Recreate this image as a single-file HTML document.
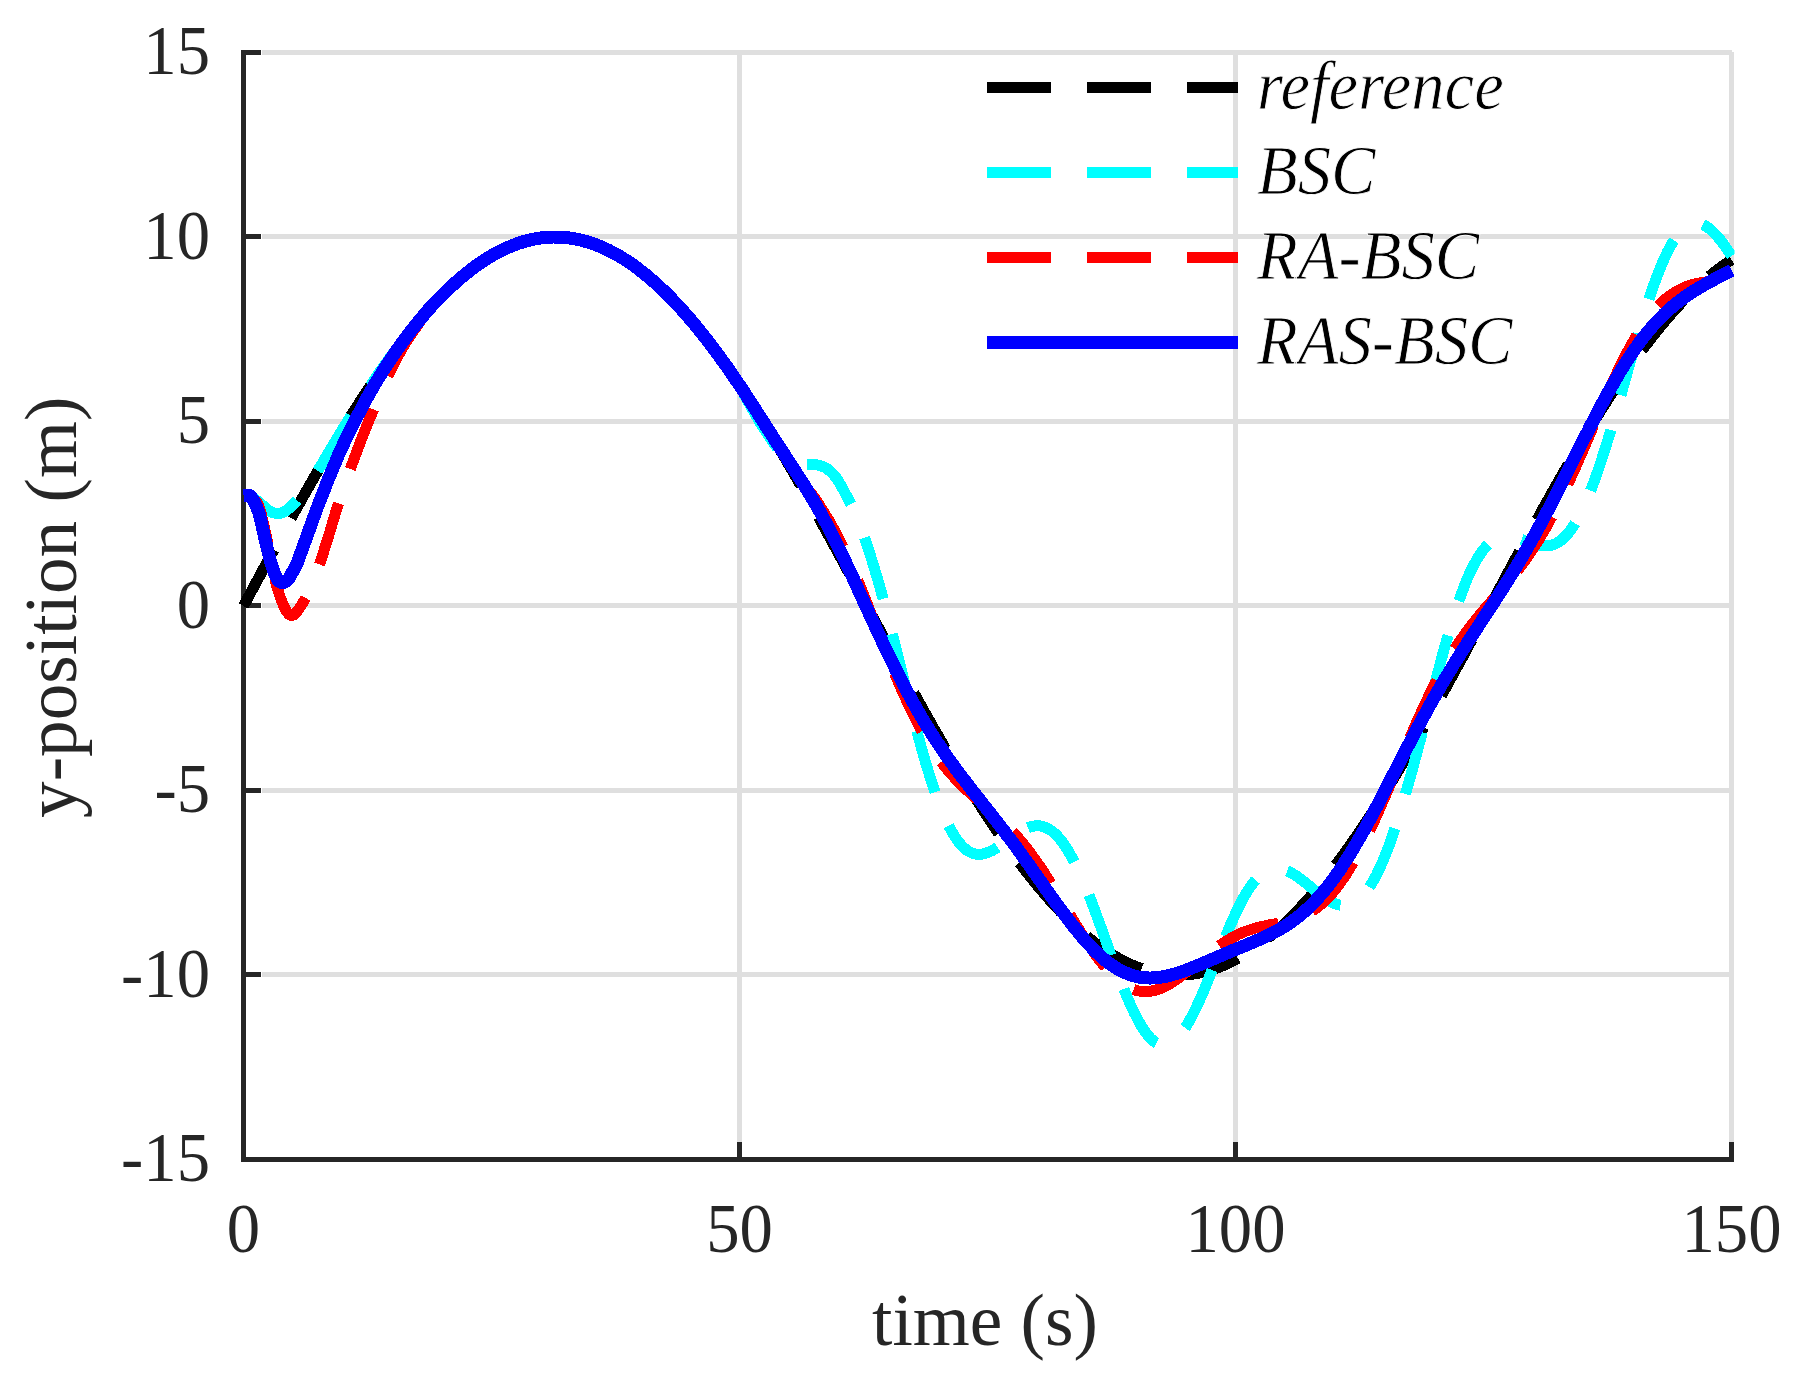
<!DOCTYPE html>
<html lang="en"><head><meta charset="utf-8"><title>y-position tracking</title>
<style>html,body{margin:0;padding:0;background:#fff}svg{display:block}</style>
</head><body>
<svg width="1799" height="1375" viewBox="0 0 1799 1375">
<rect width="1799" height="1375" fill="#fff"/>
<g fill="#dfdfdf" shape-rendering="crispEdges">
<rect x="737" y="52" width="5" height="1090"/>
<rect x="1233" y="52" width="5" height="1090"/>
<rect x="1729" y="52" width="5" height="1090"/>
<rect x="262" y="50" width="1470" height="5"/>
<rect x="262" y="234" width="1470" height="5"/>
<rect x="262" y="419" width="1470" height="5"/>
<rect x="262" y="603" width="1470" height="5"/>
<rect x="262" y="788" width="1470" height="5"/>
<rect x="262" y="972" width="1470" height="5"/>
</g>
<g fill="#262626" shape-rendering="crispEdges">
<rect x="241" y="50" width="5" height="1112"/>
<rect x="241" y="1157" width="1493" height="5"/>
<rect x="737" y="1142" width="5" height="20"/>
<rect x="1233" y="1142" width="5" height="20"/>
<rect x="1729" y="1142" width="5" height="20"/>
<rect x="241" y="50" width="20" height="5"/>
<rect x="241" y="234" width="20" height="5"/>
<rect x="241" y="419" width="20" height="5"/>
<rect x="241" y="603" width="20" height="5"/>
<rect x="241" y="788" width="20" height="5"/>
<rect x="241" y="972" width="20" height="5"/>
</g>
<defs><clipPath id="c"><rect x="230" y="40" width="1504.5" height="1130"/></clipPath></defs>
<g fill="none" stroke-width="11" stroke-linejoin="round" shape-rendering="crispEdges" clip-path="url(#c)">
<path stroke="#000" stroke-dasharray="64 36" d="M243.5 606.0L244.5 604.2L245.5 602.3L246.5 600.5L247.5 598.6L248.5 596.8L249.5 594.9L250.4 593.1L251.4 591.2L252.4 589.4L253.4 587.6L254.4 585.7L255.4 583.9L256.4 582.0L257.4 580.2L258.4 578.4L259.4 576.5L260.4 574.7L261.4 572.8L262.3 571.0L263.3 569.2L264.3 567.3L265.3 565.5L266.3 563.7L267.3 561.8L268.3 560.0L269.3 558.2L270.3 556.3L271.3 554.5L272.3 552.7L273.3 550.9L274.3 549.0L275.2 547.2L276.2 545.4L277.2 543.6L278.2 541.8L279.2 539.9L280.2 538.1L281.2 536.3L282.2 534.5L283.2 532.7L284.2 530.9L285.2 529.1L286.2 527.3L287.1 525.5L288.1 523.7L289.1 521.9L290.1 520.1L291.1 518.3L292.1 516.5L293.1 514.7L294.1 512.9L295.1 511.1L296.1 509.4L297.1 507.6L298.1 505.8L299.1 504.0L300.0 502.3L301.0 500.5L302.0 498.7L303.0 497.0L304.0 495.2L305.0 493.4L306.0 491.7L307.0 489.9L308.0 488.2L309.0 486.4L310.0 484.7L311.0 482.9L311.9 481.2L312.9 479.5L313.9 477.7L314.9 476.0L315.9 474.3L316.9 472.6L317.9 470.8L318.9 469.1L319.9 467.4L320.9 465.7L321.9 464.0L322.9 462.3L323.9 460.6L324.8 458.9L325.8 457.2L326.8 455.5L327.8 453.9L328.8 452.2L329.8 450.5L330.8 448.8L331.8 447.2L332.8 445.5L333.8 443.8L334.8 442.2L335.8 440.5L336.7 438.9L337.7 437.2L338.7 435.6L339.7 434.0L340.7 432.3L341.7 430.7L342.7 429.1L343.7 427.5L344.7 425.9L345.7 424.3L346.7 422.7L347.7 421.1L348.7 419.5L349.6 417.9L350.6 416.3L351.6 414.7L352.6 413.1L353.6 411.6L354.6 410.0L355.6 408.4L356.6 406.9L357.6 405.3L358.6 403.8L359.6 402.2L360.6 400.7L361.5 399.2L362.5 397.6L363.5 396.1L364.5 394.6L365.5 393.1L366.5 391.6L367.5 390.1L368.5 388.6L369.5 387.1L370.5 385.6L371.5 384.2L372.5 382.7L373.5 381.2L374.4 379.8L375.4 378.3L376.4 376.9L377.4 375.4L378.4 374.0L379.4 372.5L380.4 371.1L381.4 369.7L382.4 368.3L383.4 366.9L384.4 365.5L385.4 364.1L386.3 362.7L387.3 361.3L388.3 359.9L389.3 358.6L390.3 357.2L391.3 355.8L392.3 354.5L393.3 353.1L394.3 351.8L395.3 350.5L396.3 349.1L397.3 347.8L398.3 346.5L399.2 345.2L400.2 343.9L401.2 342.6L402.2 341.3L403.2 340.0L404.2 338.7L405.2 337.5L406.2 336.2L407.2 335.0L408.2 333.7L409.2 332.5L410.2 331.2L411.1 330.0L412.1 328.8L413.1 327.6L414.1 326.4L415.1 325.2L416.1 324.0L417.1 322.8L418.1 321.6L419.1 320.4L420.1 319.3L421.1 318.1L422.1 317.0L423.1 315.8L424.0 314.7L425.0 313.5L426.0 312.4L427.0 311.3L428.0 310.2L429.0 309.1L430.0 308.0L431.0 306.9L432.0 305.8L433.0 304.8L434.0 303.7L435.0 302.7L435.9 301.6L436.9 300.6L437.9 299.5L438.9 298.5L439.9 297.5L440.9 296.5L441.9 295.5L444.4 293.0L446.9 290.6L449.3 288.2L451.8 285.9L454.3 283.7L456.8 281.4L459.3 279.3L461.7 277.1L464.2 275.1L466.7 273.1L469.2 271.1L471.7 269.2L474.1 267.3L476.6 265.5L479.1 263.8L481.6 262.1L484.1 260.4L486.5 258.8L489.0 257.3L491.5 255.8L494.0 254.4L496.5 253.0L498.9 251.7L501.4 250.4L503.9 249.2L506.4 248.1L508.9 247.0L511.3 246.0L513.8 245.0L516.3 244.1L518.8 243.2L521.3 242.4L523.7 241.6L526.2 240.9L528.7 240.3L531.2 239.7L533.7 239.2L536.1 238.7L538.6 238.3L541.1 237.9L543.6 237.6L546.1 237.4L548.5 237.2L551.0 237.1L553.5 237.0L556.0 237.0L558.5 237.1L560.9 237.2L563.4 237.3L565.9 237.5L568.4 237.8L570.9 238.2L573.3 238.6L575.8 239.0L578.3 239.5L580.8 240.1L583.3 240.7L585.7 241.4L588.2 242.1L590.7 242.9L593.2 243.8L595.7 244.7L598.1 245.6L600.6 246.7L603.1 247.7L605.6 248.9L608.1 250.0L610.5 251.3L613.0 252.6L615.5 253.9L618.0 255.4L620.5 256.8L622.9 258.3L625.4 259.9L627.9 261.5L630.4 263.2L632.9 264.9L635.3 266.7L637.8 268.6L640.3 270.5L642.8 272.4L645.3 274.4L647.7 276.5L650.2 278.6L652.7 280.7L655.2 282.9L657.7 285.2L660.1 287.5L662.6 289.8L665.1 292.2L667.6 294.7L670.1 297.2L672.5 299.7L675.0 302.3L677.5 305.0L680.0 307.7L682.5 310.4L684.9 313.2L687.4 316.0L689.9 318.9L692.4 321.8L694.9 324.8L697.3 327.8L699.8 330.8L702.3 333.9L704.8 337.1L707.3 340.2L709.7 343.5L712.2 346.7L714.7 350.0L717.2 353.4L719.7 356.8L722.1 360.2L724.6 363.6L727.1 367.1L729.6 370.7L732.1 374.2L734.5 377.8L737.0 381.5L739.5 385.2L742.0 388.9L744.5 392.6L746.9 396.4L749.4 400.2L751.9 404.1L754.4 407.9L756.9 411.8L759.3 415.8L761.8 419.7L764.3 423.7L766.8 427.8L769.3 431.8L771.7 435.9L774.2 440.0L776.7 444.1L779.2 448.3L781.7 452.5L784.1 456.7L786.6 460.9L789.1 465.2L791.6 469.4L794.1 473.7L796.5 478.1L799.0 482.4L801.5 486.7L804.0 491.1L806.5 495.5L808.9 499.9L811.4 504.3L813.9 508.8L816.4 513.2L818.9 517.7L821.3 522.2L823.8 526.7L826.3 531.2L828.8 535.7L831.3 540.3L833.7 544.8L836.2 549.4L838.7 553.9L841.2 558.5L843.7 563.1L846.1 567.7L848.6 572.2L851.1 576.8L853.6 581.4L856.1 586.0L858.5 590.7L861.0 595.3L863.5 599.9L866.0 604.5L868.5 609.1L870.9 613.7L873.4 618.3L875.9 622.9L878.4 627.5L880.9 632.1L883.3 636.7L885.8 641.3L888.3 645.9L890.8 650.5L893.3 655.1L895.7 659.6L898.2 664.2L900.7 668.8L903.2 673.3L905.7 677.8L908.1 682.3L910.6 686.9L913.1 691.3L915.6 695.8L918.1 700.3L920.5 704.7L923.0 709.2L925.5 713.6L928.0 718.0L930.5 722.4L932.9 726.8L935.4 731.1L937.9 735.4L940.4 739.7L942.9 744.0L945.3 748.3L947.8 752.5L950.3 756.8L952.8 761.0L955.3 765.1L957.7 769.3L960.2 773.4L962.7 777.5L965.2 781.6L967.7 785.6L970.1 789.6L972.6 793.6L975.1 797.6L977.6 801.5L980.1 805.4L982.5 809.3L985.0 813.1L987.5 816.9L990.0 820.7L992.5 824.4L994.9 828.1L997.4 831.8L999.9 835.4L1002.4 839.0L1004.9 842.6L1007.3 846.1L1009.8 849.6L1012.3 853.0L1014.8 856.4L1017.3 859.8L1019.7 863.1L1022.2 866.4L1024.7 869.7L1027.2 872.9L1029.7 876.0L1032.1 879.1L1034.6 882.2L1037.1 885.3L1039.6 888.3L1042.1 891.2L1044.5 894.1L1047.0 897.0L1049.5 899.8L1052.0 902.5L1054.5 905.3L1056.9 907.9L1059.4 910.6L1061.9 913.2L1064.4 915.7L1066.9 918.2L1069.3 920.6L1071.8 923.0L1074.3 925.3L1076.8 927.6L1079.3 929.8L1081.7 932.0L1084.2 934.2L1086.7 936.3L1089.2 938.3L1091.7 940.3L1094.1 942.2L1096.6 944.1L1099.1 945.9L1101.6 947.7L1104.1 949.4L1106.5 951.0L1109.0 952.6L1111.5 954.2L1114.0 955.7L1116.5 957.1L1118.9 958.5L1121.4 959.9L1123.9 961.1L1126.4 962.4L1128.9 963.5L1131.3 964.7L1133.8 965.7L1136.3 966.7L1138.8 967.7L1141.3 968.5L1143.7 969.4L1146.2 970.1L1148.7 970.9L1151.2 971.5L1153.7 972.1L1156.1 972.7L1158.6 973.2L1161.1 973.6L1163.6 974.0L1166.1 974.3L1168.5 974.5L1171.0 974.7L1173.5 974.9L1176.0 975.0L1178.5 975.0L1180.9 975.0L1183.4 974.9L1185.9 974.7L1188.4 974.5L1190.9 974.3L1193.3 974.0L1195.8 973.6L1198.3 973.2L1200.8 972.7L1203.3 972.1L1205.7 971.5L1208.2 970.9L1210.7 970.1L1213.2 969.4L1215.7 968.5L1218.1 967.6L1220.6 966.7L1223.1 965.7L1225.6 964.6L1228.1 963.5L1230.5 962.3L1233.0 961.1L1235.5 959.8L1238.0 958.5L1240.5 957.1L1242.9 955.7L1245.4 954.2L1247.9 952.6L1250.4 951.0L1252.9 949.3L1255.3 947.6L1257.8 945.9L1260.3 944.0L1262.8 942.2L1265.3 940.2L1267.7 938.2L1270.2 936.2L1272.7 934.1L1275.2 932.0L1277.7 929.8L1280.1 927.6L1282.6 925.3L1285.1 922.9L1287.6 920.6L1290.1 918.1L1292.5 915.6L1295.0 913.1L1297.5 910.5L1300.0 907.9L1302.5 905.2L1304.9 902.5L1307.4 899.7L1309.9 896.9L1312.4 894.1L1314.9 891.2L1317.3 888.2L1319.8 885.2L1322.3 882.2L1324.8 879.1L1327.3 876.0L1329.7 872.8L1332.2 869.6L1334.7 866.3L1337.2 863.1L1339.7 859.7L1342.1 856.4L1344.6 852.9L1347.1 849.5L1349.6 846.0L1352.1 842.5L1354.5 838.9L1357.0 835.3L1359.5 831.7L1362.0 828.0L1364.5 824.3L1366.9 820.6L1369.4 816.8L1371.9 813.0L1374.4 809.2L1376.9 805.3L1379.3 801.4L1381.8 797.5L1384.3 793.6L1386.8 789.6L1389.3 785.6L1391.7 781.5L1394.2 777.4L1396.7 773.3L1399.2 769.2L1401.7 765.1L1404.1 760.9L1406.6 756.7L1409.1 752.5L1411.6 748.2L1414.1 744.0L1416.5 739.7L1419.0 735.4L1421.5 731.0L1424.0 726.7L1426.5 722.3L1428.9 717.9L1431.4 713.5L1433.9 709.1L1436.4 704.7L1438.9 700.2L1441.3 695.7L1443.8 691.3L1446.3 686.8L1448.8 682.3L1451.3 677.7L1453.7 673.2L1456.2 668.7L1458.7 664.1L1461.2 659.6L1463.7 655.0L1466.1 650.4L1468.6 645.8L1471.1 641.3L1473.6 636.7L1476.1 632.1L1478.5 627.5L1481.0 622.9L1483.5 618.2L1486.0 613.6L1488.5 609.0L1490.9 604.4L1493.4 599.8L1495.9 595.2L1498.4 590.6L1500.9 586.0L1503.3 581.4L1505.8 576.8L1508.3 572.2L1510.8 567.6L1513.3 563.0L1515.7 558.4L1518.2 553.8L1520.7 549.3L1523.2 544.7L1525.7 540.2L1528.1 535.7L1530.6 531.1L1533.1 526.6L1535.6 522.1L1538.1 517.6L1540.5 513.2L1543.0 508.7L1545.5 504.3L1548.0 499.8L1550.5 495.4L1552.9 491.0L1555.4 486.7L1557.9 482.3L1560.4 478.0L1562.9 473.7L1565.3 469.4L1567.8 465.1L1570.3 460.8L1572.8 456.6L1575.3 452.4L1577.7 448.2L1580.2 444.1L1582.7 439.9L1585.2 435.8L1587.7 431.7L1590.1 427.7L1592.6 423.7L1595.1 419.7L1597.6 415.7L1600.1 411.8L1602.5 407.9L1605.0 404.0L1607.5 400.1L1610.0 396.3L1612.5 392.6L1614.9 388.8L1617.4 385.1L1619.9 381.4L1622.4 377.8L1624.9 374.2L1627.3 370.6L1629.8 367.1L1632.3 363.6L1634.8 360.1L1637.3 356.7L1639.7 353.3L1642.2 350.0L1644.7 346.7L1647.2 343.4L1649.7 340.2L1652.1 337.0L1654.6 333.9L1657.1 330.8L1659.6 327.7L1662.1 324.7L1664.5 321.8L1667.0 318.8L1669.5 316.0L1672.0 313.1L1674.5 310.4L1676.9 307.6L1679.4 304.9L1681.9 302.3L1684.4 299.7L1686.9 297.1L1689.3 294.6L1691.8 292.2L1694.3 289.8L1696.8 287.4L1699.3 285.1L1701.7 282.9L1704.2 280.7L1706.7 278.5L1709.2 276.4L1711.7 274.4L1714.1 272.4L1716.6 270.4L1719.1 268.5L1721.6 266.7L1724.1 264.9L1726.5 263.2L1729.0 261.5L1731.5 259.9"/>
<path stroke="#0ff" stroke-dasharray="64 36.15" d="M243.5 495.3L244.5 495.2L245.5 495.1L246.5 495.2L247.5 495.3L248.5 495.5L249.5 495.8L250.4 496.2L251.4 496.7L252.4 497.3L253.4 497.9L254.4 498.6L255.4 499.4L256.4 500.2L257.4 501.1L258.4 501.9L259.4 502.7L260.4 503.5L261.4 504.3L262.3 505.1L263.3 506.0L264.3 506.9L265.3 507.8L266.3 508.7L267.3 509.5L268.3 510.2L269.3 510.8L270.3 511.4L271.3 511.9L272.3 512.3L273.3 512.7L274.3 513.0L275.2 513.2L276.2 513.3L277.2 513.4L278.2 513.4L279.2 513.3L280.2 513.2L281.2 513.0L282.2 512.7L283.2 512.3L284.2 511.8L285.2 511.2L286.2 510.6L287.1 509.9L288.1 509.2L289.1 508.3L290.1 507.5L291.1 506.6L292.1 505.6L293.1 504.6L294.1 503.6L295.1 502.5L296.1 501.3L297.1 500.1L298.1 498.9L299.1 497.6L300.0 496.3L301.0 495.0L302.0 493.7L303.0 492.3L304.0 490.9L305.0 489.5L306.0 488.1L307.0 486.7L308.0 485.2L309.0 483.8L310.0 482.3L311.0 480.8L311.9 479.4L312.9 477.9L313.9 476.4L314.9 474.9L315.9 473.4L316.9 471.9L317.9 470.4L318.9 468.8L319.9 467.2L320.9 465.6L321.9 464.0L322.9 462.3L323.9 460.6L324.8 458.9L325.8 457.2L326.8 455.5L327.8 453.9L328.8 452.2L329.8 450.5L330.8 448.8L331.8 447.2L332.8 445.5L333.8 443.8L334.8 442.2L335.8 440.5L336.7 438.9L337.7 437.2L338.7 435.6L339.7 434.0L340.7 432.3L341.7 430.7L342.7 429.1L343.7 427.5L344.7 425.9L345.7 424.3L346.7 422.7L347.7 421.1L348.7 419.5L349.6 417.9L350.6 416.3L351.6 414.7L352.6 413.1L353.6 411.6L354.6 410.0L355.6 408.4L356.6 406.9L357.6 405.3L358.6 403.8L359.6 402.2L360.6 400.7L361.5 399.2L362.5 397.6L363.5 396.1L364.5 394.6L365.5 393.1L366.5 391.6L367.5 390.1L368.5 388.6L369.5 387.1L370.5 385.6L371.5 384.2L372.5 382.7L373.5 381.2L374.4 379.8L375.4 378.3L376.4 376.9L377.4 375.4L378.4 374.0L379.4 372.5L380.4 371.1L381.4 369.7L382.4 368.3L383.4 366.9L384.4 365.5L385.4 364.1L386.3 362.7L387.3 361.3L388.3 359.9L389.3 358.6L390.3 357.2L391.3 355.8L392.3 354.5L393.3 353.1L394.3 351.8L395.3 350.5L396.3 349.1L397.3 347.8L398.3 346.5L399.2 345.2L400.2 343.9L401.2 342.6L402.2 341.3L403.2 340.0L404.2 338.7L405.2 337.5L406.2 336.2L407.2 335.0L408.2 333.7L409.2 332.5L410.2 331.2L411.1 330.0L412.1 328.8L413.1 327.6L414.1 326.4L415.1 325.2L416.1 324.0L417.1 322.8L418.1 321.6L419.1 320.4L420.1 319.3L421.1 318.1L422.1 317.0L423.1 315.8L424.0 314.7L425.0 313.5L426.0 312.4L427.0 311.3L428.0 310.2L429.0 309.1L430.0 308.0L431.0 306.9L432.0 305.8L433.0 304.8L434.0 303.7L435.0 302.7L435.9 301.6L436.9 300.6L437.9 299.5L438.9 298.5L439.9 297.5L440.9 296.5L441.9 295.5L444.4 293.0L446.9 290.6L449.3 288.2L451.8 285.9L454.3 283.7L456.8 281.4L459.3 279.3L461.7 277.1L464.2 275.1L466.7 273.1L469.2 271.1L471.7 269.2L474.1 267.3L476.6 265.5L479.1 263.8L481.6 262.1L484.1 260.4L486.5 258.8L489.0 257.3L491.5 255.8L494.0 254.4L496.5 253.0L498.9 251.7L501.4 250.4L503.9 249.2L506.4 248.1L508.9 247.0L511.3 246.0L513.8 245.0L516.3 244.1L518.8 243.2L521.3 242.4L523.7 241.6L526.2 240.9L528.7 240.3L531.2 239.7L533.7 239.2L536.1 238.7L538.6 238.3L541.1 237.9L543.6 237.6L546.1 237.4L548.5 237.2L551.0 237.1L553.5 237.0L556.0 237.0L558.5 237.1L560.9 237.2L563.4 237.3L565.9 237.5L568.4 237.8L570.9 238.2L573.3 238.6L575.8 239.0L578.3 239.5L580.8 240.1L583.3 240.7L585.7 241.4L588.2 242.1L590.7 242.9L593.2 243.8L595.7 244.7L598.1 245.6L600.6 246.7L603.1 247.7L605.6 248.9L608.1 250.0L610.5 251.3L613.0 252.6L615.5 253.9L618.0 255.4L620.5 256.8L622.9 258.3L625.4 259.9L627.9 261.5L630.4 263.2L632.9 264.9L635.3 266.7L637.8 268.6L640.3 270.5L642.8 272.4L645.3 274.4L647.7 276.5L650.2 278.6L652.7 280.7L655.2 282.9L657.7 285.2L660.1 287.5L662.6 289.8L665.1 292.2L667.6 294.7L670.1 297.2L672.5 299.7L675.0 302.3L677.5 305.0L680.0 307.7L682.5 310.4L684.9 313.2L687.4 316.0L689.9 318.9L692.4 321.8L694.9 324.8L697.3 327.8L699.8 330.8L702.3 333.9L704.8 337.1L707.3 340.2L709.7 343.5L712.2 346.7L714.7 350.0L717.2 353.4L719.7 356.8L722.1 360.2L724.6 363.8L727.1 367.5L729.6 371.3L732.1 375.2L734.5 379.1L737.0 383.0L739.5 387.0L742.0 391.1L744.5 395.3L746.9 399.6L749.4 403.9L751.9 408.3L754.4 412.7L756.9 417.0L759.3 421.2L761.8 425.3L764.3 429.2L766.8 433.0L769.3 436.7L771.7 440.3L774.2 443.7L776.7 447.1L779.2 450.4L781.7 453.6L784.1 456.7L786.6 459.2L789.1 460.7L791.6 461.7L794.1 462.7L796.5 463.5L799.0 464.0L801.5 464.3L804.0 464.5L806.5 464.8L808.9 464.9L811.4 464.8L813.9 464.7L816.4 464.8L818.9 465.3L821.3 466.0L823.8 466.9L826.3 468.1L828.8 470.1L831.3 472.3L833.7 474.8L836.2 477.7L838.7 481.6L841.2 486.0L843.7 490.5L846.1 495.0L848.6 499.6L851.1 504.3L853.6 509.6L856.1 515.5L858.5 521.8L861.0 528.3L863.5 535.0L866.0 542.1L868.5 549.4L870.9 557.0L873.4 565.0L875.9 573.3L878.4 581.9L880.9 590.8L883.3 599.8L885.8 609.1L888.3 618.6L890.8 628.2L893.3 638.0L895.7 647.8L898.2 657.7L900.7 667.7L903.2 677.6L905.7 687.5L908.1 697.4L910.6 707.1L913.1 716.8L915.6 726.3L918.1 735.6L920.5 744.6L923.0 753.5L925.5 762.1L928.0 770.4L930.5 778.4L932.9 786.0L935.4 793.3L937.9 800.2L940.4 806.8L942.9 812.9L945.3 818.6L947.8 823.9L950.3 828.8L952.8 833.2L955.3 837.2L957.7 840.8L960.2 843.9L962.7 846.6L965.2 848.9L967.7 850.8L970.1 852.2L972.6 853.3L975.1 854.0L977.6 854.4L980.1 854.4L982.5 854.1L985.0 853.5L987.5 852.6L990.0 851.6L992.5 850.4L994.9 849.0L997.4 847.5L999.9 845.9L1002.4 844.1L1004.9 842.3L1007.3 840.5L1009.8 838.6L1012.3 836.8L1014.8 835.1L1017.3 833.4L1019.7 831.8L1022.2 830.4L1024.7 829.1L1027.2 828.0L1029.7 827.1L1032.1 826.4L1034.6 826.0L1037.1 825.8L1039.6 825.9L1042.1 826.3L1044.5 827.1L1047.0 828.1L1049.5 829.5L1052.0 831.2L1054.5 833.2L1056.9 835.6L1059.4 838.4L1061.9 841.5L1064.4 844.9L1066.9 848.7L1069.3 852.8L1071.8 857.2L1074.3 861.9L1076.8 866.9L1079.3 872.2L1081.7 877.8L1084.2 883.6L1086.7 889.6L1089.2 895.8L1091.7 902.2L1094.1 908.7L1096.6 915.4L1099.1 922.2L1101.6 929.0L1104.1 935.9L1106.5 942.8L1109.0 949.7L1111.5 956.6L1114.0 963.4L1116.5 970.1L1118.9 976.6L1121.4 983.0L1123.9 989.3L1126.4 995.3L1128.9 1001.1L1131.3 1006.6L1133.8 1011.8L1136.3 1016.8L1138.8 1021.5L1141.3 1025.9L1143.7 1029.8L1146.2 1033.3L1148.7 1036.4L1151.2 1039.0L1153.7 1041.2L1156.1 1042.9L1158.6 1044.1L1161.1 1044.8L1163.6 1045.1L1166.1 1044.9L1168.5 1044.2L1171.0 1043.0L1173.5 1041.3L1176.0 1039.3L1178.5 1036.7L1180.9 1033.8L1183.4 1030.4L1185.9 1026.7L1188.4 1022.6L1190.9 1018.1L1193.3 1013.4L1195.8 1008.3L1198.3 1003.0L1200.8 997.5L1203.3 991.8L1205.7 985.9L1208.2 979.9L1210.7 973.7L1213.2 967.5L1215.7 961.3L1218.1 955.0L1220.6 948.8L1223.1 942.7L1225.6 936.6L1228.1 930.6L1230.5 924.8L1233.0 919.2L1235.5 913.7L1238.0 908.5L1240.5 903.6L1242.9 898.9L1245.4 894.5L1247.9 890.4L1250.4 886.6L1252.9 883.2L1255.3 880.1L1257.8 877.3L1260.3 875.0L1262.8 872.9L1265.3 871.3L1267.7 870.0L1270.2 869.0L1272.7 868.4L1275.2 868.2L1277.7 868.2L1280.1 868.6L1282.6 869.3L1285.1 870.3L1287.6 871.2L1290.1 872.3L1292.5 873.6L1295.0 875.1L1297.5 876.7L1300.0 878.5L1302.5 880.4L1304.9 882.3L1307.4 884.4L1309.9 886.4L1312.4 888.5L1314.9 890.5L1317.3 892.6L1319.8 894.5L1322.3 896.4L1324.8 898.2L1327.3 899.8L1329.7 901.3L1332.2 902.5L1334.7 903.6L1337.2 904.5L1339.7 905.1L1342.1 905.4L1344.6 905.5L1347.1 905.2L1349.6 904.7L1352.1 903.7L1354.5 902.5L1357.0 900.9L1359.5 898.9L1362.0 896.5L1364.5 893.7L1366.9 890.6L1369.4 887.1L1371.9 883.1L1374.4 878.8L1376.9 874.1L1379.3 869.0L1381.8 863.5L1384.3 857.6L1386.8 851.4L1389.3 844.8L1391.7 837.9L1394.2 830.6L1396.7 823.1L1399.2 815.2L1401.7 807.1L1404.1 798.8L1406.6 790.2L1409.1 781.4L1411.6 772.4L1414.1 763.3L1416.5 754.1L1419.0 744.7L1421.5 735.2L1424.0 725.8L1426.5 716.2L1428.9 706.7L1431.4 697.2L1433.9 687.8L1436.4 678.2L1438.9 668.7L1441.3 659.4L1443.8 650.3L1446.3 641.4L1448.8 632.7L1451.3 624.4L1453.7 616.4L1456.2 608.7L1458.7 601.3L1461.2 594.4L1463.7 587.7L1466.1 581.5L1468.6 575.7L1471.1 570.3L1473.6 565.4L1476.1 560.8L1478.5 556.6L1481.0 552.9L1483.5 549.6L1486.0 546.7L1488.5 544.2L1490.9 542.1L1493.4 540.3L1495.9 538.9L1498.4 537.8L1500.9 537.1L1503.3 536.6L1505.8 536.4L1508.3 536.4L1510.8 536.7L1513.3 537.1L1515.7 537.7L1518.2 538.5L1520.7 539.3L1523.2 540.2L1525.7 541.1L1528.1 542.0L1530.6 542.9L1533.1 543.8L1535.6 544.5L1538.1 545.1L1540.5 545.6L1543.0 545.9L1545.5 546.0L1548.0 545.8L1550.5 545.4L1552.9 544.7L1555.4 543.8L1557.9 542.4L1560.4 540.8L1562.9 538.8L1565.3 536.4L1567.8 533.7L1570.3 530.5L1572.8 527.0L1575.3 523.1L1577.7 518.7L1580.2 514.0L1582.7 508.9L1585.2 503.5L1587.7 497.8L1590.1 491.8L1592.6 485.4L1595.1 478.7L1597.6 471.7L1600.1 464.4L1602.5 456.9L1605.0 449.1L1607.5 441.1L1610.0 432.9L1612.5 424.5L1614.9 416.0L1617.4 407.4L1619.9 398.7L1622.4 389.9L1624.9 381.0L1627.3 372.2L1629.8 363.4L1632.3 354.6L1634.8 345.9L1637.3 337.4L1639.7 328.9L1642.2 320.7L1644.7 312.6L1647.2 304.7L1649.7 297.1L1652.1 289.8L1654.6 282.8L1657.1 276.1L1659.6 269.7L1662.1 263.7L1664.5 258.0L1667.0 252.8L1669.5 247.9L1672.0 243.5L1674.5 239.5L1676.9 235.9L1679.4 232.8L1681.9 230.1L1684.4 227.8L1686.9 226.0L1689.3 224.6L1691.8 223.7L1694.3 223.2L1696.8 223.1L1699.3 223.4L1701.7 224.1L1704.2 225.2L1706.7 226.6L1709.2 228.4L1711.7 230.5L1714.1 232.9L1716.6 235.6L1719.1 238.5L1721.6 241.6L1724.1 245.0L1726.5 248.5L1729.0 252.1L1731.5 255.9"/>
<path stroke="#f00" stroke-dasharray="64 36.3" stroke-dashoffset="5" d="M243.5 495.3L244.5 495.2L245.5 495.1L246.5 495.2L247.5 495.3L248.5 495.5L249.5 495.7L250.4 496.2L251.4 496.9L252.4 497.9L253.4 499.0L254.4 499.9L255.4 500.7L256.4 501.7L257.4 503.2L258.4 505.1L259.4 507.7L260.4 510.8L261.4 514.6L262.3 518.6L263.3 522.8L264.3 527.2L265.3 531.7L266.3 536.1L267.3 540.7L268.3 545.4L269.3 550.3L270.3 555.4L271.3 560.9L272.3 566.4L273.3 571.2L274.3 575.6L275.2 579.8L276.2 583.8L277.2 587.5L278.2 590.9L279.2 594.1L280.2 597.1L281.2 599.8L282.2 602.4L283.2 604.7L284.2 606.8L285.2 608.9L286.2 610.7L287.1 612.2L288.1 613.4L289.1 614.5L290.1 615.2L291.1 615.5L292.1 615.4L293.1 615.1L294.1 614.6L295.1 613.9L296.1 612.8L297.1 611.5L298.1 610.2L299.1 608.8L300.0 607.3L301.0 605.8L302.0 604.2L303.0 602.6L304.0 601.0L305.0 599.3L306.0 597.6L307.0 595.7L308.0 593.6L309.0 591.4L310.0 589.1L311.0 586.8L311.9 584.4L312.9 582.1L313.9 579.6L314.9 577.1L315.9 574.4L316.9 571.6L317.9 568.8L318.9 566.0L319.9 563.1L320.9 560.2L321.9 557.2L322.9 554.2L323.9 551.1L324.8 547.9L325.8 544.8L326.8 541.6L327.8 538.4L328.8 535.2L329.8 532.0L330.8 528.7L331.8 525.4L332.8 522.0L333.8 518.6L334.8 515.3L335.8 512.0L336.7 508.7L337.7 505.6L338.7 502.5L339.7 499.5L340.7 496.5L341.7 493.6L342.7 490.7L343.7 487.8L344.7 485.0L345.7 482.2L346.7 479.4L347.7 476.6L348.7 473.8L349.6 471.1L350.6 468.3L351.6 465.6L352.6 462.8L353.6 460.1L354.6 457.4L355.6 454.7L356.6 452.0L357.6 449.4L358.6 446.7L359.6 444.1L360.6 441.5L361.5 438.9L362.5 436.4L363.5 433.9L364.5 431.4L365.5 428.9L366.5 426.4L367.5 424.0L368.5 421.6L369.5 419.2L370.5 416.8L371.5 414.4L372.5 412.0L373.5 409.6L374.4 407.3L375.4 404.9L376.4 402.5L377.4 400.1L378.4 397.7L379.4 395.3L380.4 393.0L381.4 390.6L382.4 388.3L383.4 385.9L384.4 383.7L385.4 381.4L386.3 379.2L387.3 377.0L388.3 374.9L389.3 372.8L390.3 370.7L391.3 368.7L392.3 366.8L393.3 364.9L394.3 363.0L395.3 361.1L396.3 359.2L397.3 357.4L398.3 355.5L399.2 353.7L400.2 352.0L401.2 350.2L402.2 348.5L403.2 346.9L404.2 345.2L405.2 343.6L406.2 342.0L407.2 340.5L408.2 339.0L409.2 337.5L410.2 336.0L411.1 334.5L412.1 333.0L413.1 331.6L414.1 330.1L415.1 328.7L416.1 327.3L417.1 325.9L418.1 324.5L419.1 323.2L420.1 321.8L421.1 320.5L422.1 319.2L423.1 318.0L424.0 316.7L425.0 315.5L426.0 314.3L427.0 313.2L428.0 312.0L429.0 310.9L430.0 309.7L431.0 308.6L432.0 307.5L433.0 306.4L434.0 305.3L435.0 304.3L435.9 303.2L436.9 302.1L437.9 301.1L438.9 300.0L439.9 299.0L440.9 298.0L441.9 296.9L444.4 294.4L446.9 292.0L449.3 289.6L451.8 287.2L454.3 284.9L456.8 282.6L459.3 280.4L461.7 278.3L464.2 276.1L466.7 274.0L469.2 272.0L471.7 270.0L474.1 268.0L476.6 266.1L479.1 264.3L481.6 262.5L484.1 260.8L486.5 259.1L489.0 257.5L491.5 256.0L494.0 254.5L496.5 253.1L498.9 251.7L501.4 250.4L503.9 249.2L506.4 248.1L508.9 247.0L511.3 246.0L513.8 245.0L516.3 244.1L518.8 243.2L521.3 242.4L523.7 241.6L526.2 240.9L528.7 240.3L531.2 239.7L533.7 239.2L536.1 238.7L538.6 238.3L541.1 237.9L543.6 237.6L546.1 237.4L548.5 237.2L551.0 237.1L553.5 237.0L556.0 237.0L558.5 237.1L560.9 237.2L563.4 237.3L565.9 237.5L568.4 237.8L570.9 238.2L573.3 238.6L575.8 239.0L578.3 239.5L580.8 240.1L583.3 240.7L585.7 241.4L588.2 242.1L590.7 242.9L593.2 243.8L595.7 244.7L598.1 245.6L600.6 246.7L603.1 247.7L605.6 248.9L608.1 250.0L610.5 251.3L613.0 252.6L615.5 253.9L618.0 255.4L620.5 256.8L622.9 258.3L625.4 259.9L627.9 261.5L630.4 263.2L632.9 264.9L635.3 266.7L637.8 268.6L640.3 270.5L642.8 272.4L645.3 274.4L647.7 276.5L650.2 278.6L652.7 280.7L655.2 282.9L657.7 285.2L660.1 287.5L662.6 289.8L665.1 292.2L667.6 294.7L670.1 297.2L672.5 299.7L675.0 302.3L677.5 305.0L680.0 307.7L682.5 310.4L684.9 313.2L687.4 316.0L689.9 318.9L692.4 321.8L694.9 324.8L697.3 327.8L699.8 330.8L702.3 333.9L704.8 337.1L707.3 340.2L709.7 343.5L712.2 346.7L714.7 350.0L717.2 353.4L719.7 356.8L722.1 360.2L724.6 363.6L727.1 367.1L729.6 370.7L732.1 374.2L734.5 377.8L737.0 381.5L739.5 385.2L742.0 388.9L744.5 392.6L746.9 396.4L749.4 400.2L751.9 404.1L754.4 408.0L756.9 411.9L759.3 415.9L761.8 419.8L764.3 423.8L766.8 427.8L769.3 431.7L771.7 435.6L774.2 439.5L776.7 443.4L779.2 447.2L781.7 450.9L784.1 454.6L786.6 458.2L789.1 461.8L791.6 465.4L794.1 468.9L796.5 472.4L799.0 475.9L801.5 479.4L804.0 482.8L806.5 486.3L808.9 489.8L811.4 493.4L813.9 497.0L816.4 500.6L818.9 504.3L821.3 508.2L823.8 512.1L826.3 516.2L828.8 520.3L831.3 524.6L833.7 529.1L836.2 533.7L838.7 538.5L841.2 543.4L843.7 548.5L846.1 553.8L848.6 559.2L851.1 564.7L853.6 570.5L856.1 576.3L858.5 582.3L861.0 588.4L863.5 594.6L866.0 600.8L868.5 607.2L870.9 613.6L873.4 620.0L875.9 626.4L878.4 632.7L880.9 639.1L883.3 645.4L885.8 651.6L888.3 657.8L890.8 663.9L893.3 669.9L895.7 675.9L898.2 681.7L900.7 687.4L903.2 693.1L905.7 698.6L908.1 703.9L910.6 709.2L913.1 714.2L915.6 719.2L918.1 724.0L920.5 728.7L923.0 733.2L925.5 737.5L928.0 741.7L930.5 745.8L932.9 749.7L935.4 753.4L937.9 757.1L940.4 760.5L942.9 763.9L945.3 767.1L947.8 770.1L950.3 773.1L952.8 775.9L955.3 778.6L957.7 781.3L960.2 783.8L962.7 786.3L965.2 788.6L967.7 790.9L970.1 793.2L972.6 795.4L975.1 797.5L977.6 799.7L980.1 801.8L982.5 803.9L985.0 806.0L987.5 808.1L990.0 810.2L992.5 812.3L994.9 814.5L997.4 816.8L999.9 819.0L1002.4 821.4L1004.9 823.7L1007.3 826.2L1009.8 828.7L1012.3 831.4L1014.8 834.0L1017.3 836.8L1019.7 839.7L1022.2 842.7L1024.7 845.7L1027.2 848.9L1029.7 852.1L1032.1 855.4L1034.6 858.9L1037.1 862.4L1039.6 866.0L1042.1 869.7L1044.5 873.4L1047.0 877.3L1049.5 881.1L1052.0 885.1L1054.5 889.1L1056.9 893.1L1059.4 897.2L1061.9 901.3L1064.4 905.5L1066.9 909.6L1069.3 913.7L1071.8 917.9L1074.3 922.0L1076.8 926.1L1079.3 930.1L1081.7 934.1L1084.2 938.0L1086.7 941.8L1089.2 945.6L1091.7 949.3L1094.1 952.8L1096.6 956.3L1099.1 959.6L1101.6 962.8L1104.1 965.9L1106.5 968.8L1109.0 971.6L1111.5 974.2L1114.0 976.6L1116.5 978.9L1118.9 981.0L1121.4 982.9L1123.9 984.6L1126.4 986.1L1128.9 987.5L1131.3 988.6L1133.8 989.6L1136.3 990.4L1138.8 991.0L1141.3 991.3L1143.7 991.6L1146.2 991.6L1148.7 991.4L1151.2 991.1L1153.7 990.6L1156.1 990.0L1158.6 989.2L1161.1 988.2L1163.6 987.1L1166.1 985.9L1168.5 984.6L1171.0 983.1L1173.5 981.5L1176.0 979.9L1178.5 978.1L1180.9 976.3L1183.4 974.4L1185.9 972.5L1188.4 970.5L1190.9 968.5L1193.3 966.4L1195.8 964.4L1198.3 962.3L1200.8 960.3L1203.3 958.2L1205.7 956.2L1208.2 954.2L1210.7 952.2L1213.2 950.3L1215.7 948.4L1218.1 946.6L1220.6 944.9L1223.1 943.2L1225.6 941.6L1228.1 940.0L1230.5 938.6L1233.0 937.2L1235.5 935.9L1238.0 934.6L1240.5 933.5L1242.9 932.4L1245.4 931.4L1247.9 930.5L1250.4 929.7L1252.9 928.9L1255.3 928.1L1257.8 927.5L1260.3 926.9L1262.8 926.3L1265.3 925.8L1267.7 925.2L1270.2 924.8L1272.7 924.3L1275.2 923.8L1277.7 923.3L1280.1 922.9L1282.6 922.3L1285.1 921.8L1287.6 921.2L1290.1 920.6L1292.5 919.9L1295.0 919.1L1297.5 918.2L1300.0 917.3L1302.5 916.2L1304.9 915.1L1307.4 913.8L1309.9 912.4L1312.4 910.9L1314.9 909.2L1317.3 907.4L1319.8 905.4L1322.3 903.3L1324.8 901.0L1327.3 898.5L1329.7 895.9L1332.2 893.1L1334.7 890.2L1337.2 887.0L1339.7 883.7L1342.1 880.2L1344.6 876.5L1347.1 872.7L1349.6 868.7L1352.1 864.5L1354.5 860.2L1357.0 855.7L1359.5 851.1L1362.0 846.3L1364.5 841.4L1366.9 836.3L1369.4 831.2L1371.9 825.9L1374.4 820.5L1376.9 815.0L1379.3 809.4L1381.8 803.8L1384.3 798.1L1386.8 792.3L1389.3 786.5L1391.7 780.7L1394.2 774.8L1396.7 768.9L1399.2 763.0L1401.7 757.2L1404.1 751.3L1406.6 745.5L1409.1 739.7L1411.6 734.0L1414.1 728.3L1416.5 722.7L1419.0 717.2L1421.5 711.7L1424.0 706.4L1426.5 701.1L1428.9 695.9L1431.4 690.9L1433.9 685.9L1436.4 681.1L1438.9 676.4L1441.3 671.8L1443.8 667.3L1446.3 662.9L1448.8 658.7L1451.3 654.6L1453.7 650.6L1456.2 646.7L1458.7 643.0L1461.2 639.3L1463.7 635.8L1466.1 632.3L1468.6 629.0L1471.1 625.7L1473.6 622.5L1476.1 619.4L1478.5 616.4L1481.0 613.4L1483.5 610.4L1486.0 607.6L1488.5 604.7L1490.9 601.9L1493.4 599.0L1495.9 596.2L1498.4 593.4L1500.9 590.6L1503.3 587.7L1505.8 584.8L1508.3 581.9L1510.8 578.9L1513.3 575.9L1515.7 572.8L1518.2 569.6L1520.7 566.4L1523.2 563.0L1525.7 559.6L1528.1 556.1L1530.6 552.4L1533.1 548.7L1535.6 544.8L1538.1 540.9L1540.5 536.8L1543.0 532.6L1545.5 528.2L1548.0 523.8L1550.5 519.2L1552.9 514.6L1555.4 509.8L1557.9 504.9L1560.4 499.8L1562.9 494.7L1565.3 489.5L1567.8 484.2L1570.3 478.8L1572.8 473.4L1575.3 467.8L1577.7 462.2L1580.2 456.6L1582.7 450.9L1585.2 445.1L1587.7 439.4L1590.1 433.6L1592.6 427.8L1595.1 422.0L1597.6 416.3L1600.1 410.5L1602.5 404.8L1605.0 399.2L1607.5 393.6L1610.0 388.1L1612.5 382.6L1614.9 377.3L1617.4 372.0L1619.9 366.9L1622.4 361.8L1624.9 356.9L1627.3 352.2L1629.8 347.5L1632.3 343.0L1634.8 338.7L1637.3 334.5L1639.7 330.5L1642.2 326.7L1644.7 323.0L1647.2 319.5L1649.7 316.2L1652.1 313.1L1654.6 310.1L1657.1 307.3L1659.6 304.7L1662.1 302.2L1664.5 300.0L1667.0 297.9L1669.5 295.9L1672.0 294.1L1674.5 292.5L1676.9 291.0L1679.4 289.7L1681.9 288.5L1684.4 287.4L1686.9 286.4L1689.3 285.5L1691.8 284.8L1694.3 284.1L1696.8 283.5L1699.3 283.0L1701.7 282.5L1704.2 282.1L1706.7 281.8L1709.2 281.4L1711.7 281.1L1714.1 280.8L1716.6 280.6L1719.1 280.3L1721.6 280.0L1724.1 279.6L1726.5 279.3L1729.0 278.9L1731.5 278.5"/>
<path stroke="#00f" stroke-width="13" d="M243.5 495.3L244.5 495.2L245.5 495.1L246.5 495.2L247.5 495.3L248.5 495.4L249.5 495.6L250.4 496.1L251.4 497.1L252.4 498.7L253.4 500.5L254.4 502.3L255.4 504.3L256.4 506.5L257.4 508.9L258.4 511.6L259.4 514.6L260.4 518.2L261.4 522.4L262.3 526.7L263.3 531.2L264.3 535.7L265.3 540.2L266.3 544.4L267.3 548.6L268.3 552.8L269.3 556.8L270.3 560.6L271.3 564.0L272.3 567.2L273.3 570.1L274.3 572.8L275.2 575.2L276.2 577.2L277.2 578.9L278.2 580.3L279.2 581.3L280.2 582.0L281.2 582.4L282.2 582.6L283.2 582.5L284.2 582.2L285.2 581.7L286.2 581.2L287.1 580.6L288.1 579.7L289.1 578.1L290.1 576.3L291.1 574.5L292.1 572.7L293.1 570.9L294.1 569.1L295.1 567.3L296.1 565.4L297.1 563.3L298.1 560.9L299.1 558.2L300.0 555.4L301.0 552.5L302.0 549.7L303.0 547.0L304.0 544.2L305.0 541.5L306.0 538.7L307.0 536.0L308.0 533.2L309.0 530.4L310.0 527.7L311.0 524.9L311.9 522.2L312.9 519.4L313.9 516.7L314.9 514.0L315.9 511.3L316.9 508.6L317.9 506.0L318.9 503.4L319.9 500.9L320.9 498.4L321.9 495.8L322.9 493.3L323.9 490.8L324.8 488.3L325.8 485.7L326.8 483.2L327.8 480.7L328.8 478.2L329.8 475.7L330.8 473.3L331.8 470.8L332.8 468.5L333.8 466.1L334.8 463.7L335.8 461.4L336.7 459.1L337.7 456.8L338.7 454.5L339.7 452.3L340.7 450.0L341.7 447.8L342.7 445.7L343.7 443.6L344.7 441.5L345.7 439.4L346.7 437.3L347.7 435.3L348.7 433.3L349.6 431.2L350.6 429.2L351.6 427.3L352.6 425.3L353.6 423.3L354.6 421.4L355.6 419.5L356.6 417.6L357.6 415.7L358.6 413.8L359.6 411.9L360.6 410.0L361.5 408.1L362.5 406.2L363.5 404.4L364.5 402.5L365.5 400.7L366.5 398.9L367.5 397.1L368.5 395.3L369.5 393.5L370.5 391.8L371.5 390.0L372.5 388.3L373.5 386.6L374.4 384.9L375.4 383.3L376.4 381.6L377.4 380.0L378.4 378.3L379.4 376.7L380.4 375.1L381.4 373.5L382.4 371.9L383.4 370.3L384.4 368.7L385.4 367.2L386.3 365.7L387.3 364.1L388.3 362.6L389.3 361.1L390.3 359.6L391.3 358.1L392.3 356.7L393.3 355.2L394.3 353.8L395.3 352.4L396.3 351.0L397.3 349.5L398.3 348.1L399.2 346.8L400.2 345.4L401.2 344.0L402.2 342.6L403.2 341.3L404.2 339.9L405.2 338.6L406.2 337.3L407.2 336.0L408.2 334.7L409.2 333.4L410.2 332.1L411.1 330.8L412.1 329.5L413.1 328.3L414.1 327.0L415.1 325.7L416.1 324.5L417.1 323.3L418.1 322.0L419.1 320.8L420.1 319.6L421.1 318.4L422.1 317.2L423.1 316.0L424.0 314.8L425.0 313.7L426.0 312.5L427.0 311.4L428.0 310.2L429.0 309.1L430.0 308.0L431.0 306.9L432.0 305.8L433.0 304.8L434.0 303.7L435.0 302.7L435.9 301.6L436.9 300.6L437.9 299.5L438.9 298.5L439.9 297.5L440.9 296.5L441.9 295.5L444.4 293.0L446.9 290.6L449.3 288.2L451.8 285.9L454.3 283.7L456.8 281.4L459.3 279.3L461.7 277.1L464.2 275.1L466.7 273.1L469.2 271.1L471.7 269.2L474.1 267.3L476.6 265.5L479.1 263.8L481.6 262.1L484.1 260.4L486.5 258.8L489.0 257.3L491.5 255.8L494.0 254.4L496.5 253.0L498.9 251.7L501.4 250.4L503.9 249.2L506.4 248.1L508.9 247.0L511.3 246.0L513.8 245.0L516.3 244.1L518.8 243.2L521.3 242.4L523.7 241.6L526.2 240.9L528.7 240.3L531.2 239.7L533.7 239.2L536.1 238.7L538.6 238.3L541.1 237.9L543.6 237.6L546.1 237.4L548.5 237.2L551.0 237.1L553.5 237.0L556.0 237.0L558.5 237.1L560.9 237.2L563.4 237.3L565.9 237.5L568.4 237.8L570.9 238.2L573.3 238.6L575.8 239.0L578.3 239.5L580.8 240.1L583.3 240.7L585.7 241.4L588.2 242.1L590.7 242.9L593.2 243.8L595.7 244.7L598.1 245.6L600.6 246.7L603.1 247.7L605.6 248.9L608.1 250.0L610.5 251.3L613.0 252.6L615.5 253.9L618.0 255.4L620.5 256.8L622.9 258.3L625.4 259.9L627.9 261.5L630.4 263.2L632.9 264.9L635.3 266.7L637.8 268.6L640.3 270.5L642.8 272.4L645.3 274.4L647.7 276.5L650.2 278.6L652.7 280.7L655.2 282.9L657.7 285.2L660.1 287.5L662.6 289.8L665.1 292.2L667.6 294.7L670.1 297.2L672.5 299.7L675.0 302.3L677.5 305.0L680.0 307.7L682.5 310.4L684.9 313.2L687.4 316.0L689.9 318.9L692.4 321.8L694.9 324.8L697.3 327.8L699.8 330.8L702.3 333.9L704.8 337.1L707.3 340.2L709.7 343.5L712.2 346.7L714.7 350.0L717.2 353.4L719.7 356.8L722.1 360.2L724.6 363.6L727.1 367.1L729.6 370.7L732.1 374.2L734.5 377.8L737.0 381.5L739.5 385.2L742.0 388.9L744.5 392.6L746.9 396.4L749.4 400.3L751.9 404.1L754.4 408.0L756.9 411.8L759.3 415.7L761.8 419.6L764.3 423.4L766.8 427.3L769.3 431.2L771.7 435.0L774.2 438.8L776.7 442.7L779.2 446.5L781.7 450.3L784.1 454.1L786.6 457.9L789.1 461.7L791.6 465.5L794.1 469.3L796.5 473.2L799.0 477.1L801.5 481.0L804.0 484.9L806.5 489.0L808.9 493.0L811.4 497.1L813.9 501.3L816.4 505.6L818.9 509.9L821.3 514.4L823.8 518.9L826.3 523.4L828.8 528.1L831.3 532.9L833.7 537.7L836.2 542.7L838.7 547.7L841.2 552.8L843.7 558.0L846.1 563.2L848.6 568.5L851.1 573.9L853.6 579.2L856.1 584.7L858.5 590.1L861.0 595.5L863.5 601.0L866.0 606.4L868.5 611.8L870.9 617.2L873.4 622.6L875.9 628.0L878.4 633.3L880.9 638.6L883.3 643.9L885.8 649.1L888.3 654.2L890.8 659.3L893.3 664.4L895.7 669.4L898.2 674.3L900.7 679.2L903.2 684.0L905.7 688.7L908.1 693.3L910.6 697.9L913.1 702.4L915.6 706.8L918.1 711.2L920.5 715.5L923.0 719.7L925.5 723.8L928.0 727.8L930.5 731.8L932.9 735.7L935.4 739.6L937.9 743.3L940.4 747.0L942.9 750.7L945.3 754.3L947.8 757.8L950.3 761.3L952.8 764.7L955.3 768.1L957.7 771.4L960.2 774.7L962.7 778.0L965.2 781.2L967.7 784.4L970.1 787.6L972.6 790.8L975.1 794.0L977.6 797.1L980.1 800.3L982.5 803.4L985.0 806.6L987.5 809.7L990.0 812.9L992.5 816.0L994.9 819.2L997.4 822.4L999.9 825.6L1002.4 828.9L1004.9 832.1L1007.3 835.4L1009.8 838.7L1012.3 842.0L1014.8 845.4L1017.3 848.7L1019.7 852.1L1022.2 855.5L1024.7 859.0L1027.2 862.4L1029.7 865.9L1032.1 869.4L1034.6 872.9L1037.1 876.4L1039.6 879.9L1042.1 883.4L1044.5 886.9L1047.0 890.4L1049.5 893.9L1052.0 897.4L1054.5 900.9L1056.9 904.3L1059.4 907.7L1061.9 911.1L1064.4 914.5L1066.9 917.8L1069.3 921.0L1071.8 924.3L1074.3 927.4L1076.8 930.5L1079.3 933.5L1081.7 936.5L1084.2 939.4L1086.7 942.2L1089.2 944.9L1091.7 947.5L1094.1 950.1L1096.6 952.5L1099.1 954.8L1101.6 957.1L1104.1 959.2L1106.5 961.2L1109.0 963.1L1111.5 964.9L1114.0 966.6L1116.5 968.1L1118.9 969.6L1121.4 970.9L1123.9 972.1L1126.4 973.2L1128.9 974.2L1131.3 975.1L1133.8 975.8L1136.3 976.5L1138.8 977.0L1141.3 977.4L1143.7 977.7L1146.2 977.9L1148.7 978.0L1151.2 978.0L1153.7 977.9L1156.1 977.7L1158.6 977.5L1161.1 977.1L1163.6 976.7L1166.1 976.2L1168.5 975.7L1171.0 975.0L1173.5 974.3L1176.0 973.6L1178.5 972.8L1180.9 972.0L1183.4 971.1L1185.9 970.2L1188.4 969.2L1190.9 968.3L1193.3 967.3L1195.8 966.3L1198.3 965.2L1200.8 964.2L1203.3 963.1L1205.7 962.1L1208.2 961.0L1210.7 959.9L1213.2 958.9L1215.7 957.8L1218.1 956.7L1220.6 955.7L1223.1 954.6L1225.6 953.6L1228.1 952.5L1230.5 951.5L1233.0 950.5L1235.5 949.5L1238.0 948.4L1240.5 947.4L1242.9 946.4L1245.4 945.4L1247.9 944.3L1250.4 943.3L1252.9 942.3L1255.3 941.2L1257.8 940.1L1260.3 939.0L1262.8 937.9L1265.3 936.8L1267.7 935.6L1270.2 934.4L1272.7 933.1L1275.2 931.8L1277.7 930.4L1280.1 929.0L1282.6 927.6L1285.1 926.0L1287.6 924.4L1290.1 922.8L1292.5 921.0L1295.0 919.2L1297.5 917.3L1300.0 915.3L1302.5 913.2L1304.9 911.0L1307.4 908.8L1309.9 906.4L1312.4 904.0L1314.9 901.4L1317.3 898.7L1319.8 896.0L1322.3 893.1L1324.8 890.1L1327.3 887.0L1329.7 883.8L1332.2 880.6L1334.7 877.2L1337.2 873.7L1339.7 870.1L1342.1 866.4L1344.6 862.6L1347.1 858.7L1349.6 854.8L1352.1 850.7L1354.5 846.6L1357.0 842.3L1359.5 838.0L1362.0 833.7L1364.5 829.3L1366.9 824.8L1369.4 820.2L1371.9 815.6L1374.4 811.0L1376.9 806.3L1379.3 801.5L1381.8 796.8L1384.3 792.0L1386.8 787.2L1389.3 782.4L1391.7 777.6L1394.2 772.7L1396.7 767.9L1399.2 763.1L1401.7 758.2L1404.1 753.4L1406.6 748.6L1409.1 743.9L1411.6 739.1L1414.1 734.4L1416.5 729.7L1419.0 725.1L1421.5 720.5L1424.0 715.9L1426.5 711.4L1428.9 706.9L1431.4 702.5L1433.9 698.1L1436.4 693.7L1438.9 689.4L1441.3 685.2L1443.8 680.9L1446.3 676.8L1448.8 672.7L1451.3 668.6L1453.7 664.5L1456.2 660.5L1458.7 656.6L1461.2 652.6L1463.7 648.7L1466.1 644.9L1468.6 641.0L1471.1 637.2L1473.6 633.4L1476.1 629.6L1478.5 625.8L1481.0 622.0L1483.5 618.2L1486.0 614.4L1488.5 610.7L1490.9 606.9L1493.4 603.1L1495.9 599.2L1498.4 595.4L1500.9 591.5L1503.3 587.6L1505.8 583.7L1508.3 579.7L1510.8 575.7L1513.3 571.7L1515.7 567.6L1518.2 563.4L1520.7 559.3L1523.2 555.0L1525.7 550.8L1528.1 546.5L1530.6 542.1L1533.1 537.7L1535.6 533.2L1538.1 528.7L1540.5 524.1L1543.0 519.5L1545.5 514.8L1548.0 510.1L1550.5 505.4L1552.9 500.6L1555.4 495.8L1557.9 490.9L1560.4 486.1L1562.9 481.1L1565.3 476.2L1567.8 471.3L1570.3 466.3L1572.8 461.4L1575.3 456.4L1577.7 451.4L1580.2 446.5L1582.7 441.5L1585.2 436.6L1587.7 431.7L1590.1 426.8L1592.6 421.9L1595.1 417.1L1597.6 412.4L1600.1 407.6L1602.5 403.0L1605.0 398.4L1607.5 393.8L1610.0 389.4L1612.5 385.0L1614.9 380.6L1617.4 376.4L1619.9 372.2L1622.4 368.1L1624.9 364.1L1627.3 360.3L1629.8 356.5L1632.3 352.8L1634.8 349.1L1637.3 345.6L1639.7 342.2L1642.2 338.9L1644.7 335.7L1647.2 332.6L1649.7 329.7L1652.1 326.8L1654.6 324.0L1657.1 321.3L1659.6 318.7L1662.1 316.2L1664.5 313.7L1667.0 311.4L1669.5 309.2L1672.0 307.0L1674.5 305.0L1676.9 303.0L1679.4 301.0L1681.9 299.2L1684.4 297.4L1686.9 295.7L1689.3 294.0L1691.8 292.4L1694.3 290.8L1696.8 289.3L1699.3 287.8L1701.7 286.3L1704.2 284.9L1706.7 283.5L1709.2 282.1L1711.7 280.8L1714.1 279.4L1716.6 278.1L1719.1 276.8L1721.6 275.5L1724.1 274.2L1726.5 272.9L1729.0 271.6L1731.5 270.3"/>
</g>
<g fill="none" stroke-width="11" shape-rendering="crispEdges">
<path stroke="#000" stroke-dasharray="64 36" d="M987 87.5H1238"/>
<path stroke="#0ff" stroke-dasharray="64 36" d="M987 172.5H1238"/>
<path stroke="#f00" stroke-dasharray="64 36" d="M987 257.5H1238"/>
<path stroke="#00f" stroke-width="13" d="M987 342.5H1238"/>
</g>
<g fill="#262626" font-family="'Liberation Serif', 'Times New Roman', serif">
<g font-size="66.7" text-anchor="end">
<text transform="translate(210 74.3) scale(1 1.06)">15</text>
<text transform="translate(210 258.8) scale(1 1.06)">10</text>
<text transform="translate(210 443.3) scale(1 1.06)">5</text>
<text transform="translate(210 627.8) scale(1 1.06)">0</text>
<text transform="translate(210 812.3) scale(1 1.06)">-5</text>
<text transform="translate(210 996.8) scale(1 1.06)">-10</text>
<text transform="translate(210 1181.3) scale(1 1.06)">-15</text>
</g>
<g font-size="66.7" text-anchor="middle">
<text transform="translate(243.5 1252.4) scale(1 1.06)">0</text>
<text transform="translate(739.5 1252.4) scale(1 1.06)">50</text>
<text transform="translate(1235.5 1252.4) scale(1 1.06)">100</text>
<text transform="translate(1731.5 1252.4) scale(1 1.06)">150</text>
</g>
<text font-size="73.3" text-anchor="middle" x="985" y="1345">time (s)</text>
<text font-size="73.3" text-anchor="middle" transform="translate(75.6 607.3) rotate(-90)">y-position (m)</text>
<g font-size="66.7" font-style="italic" fill="#000" stroke="#fff" stroke-width="0.8">
<text transform="translate(1257 109.2) scale(1 1.035)">reference</text>
<text transform="translate(1257 194.2) scale(1 1.035)">BSC</text>
<text transform="translate(1257 279.2) scale(1 1.035)">RA-BSC</text>
<text transform="translate(1257 364.2) scale(1 1.035)">RAS-BSC</text>
</g>
</g>
</svg>
</body></html>
